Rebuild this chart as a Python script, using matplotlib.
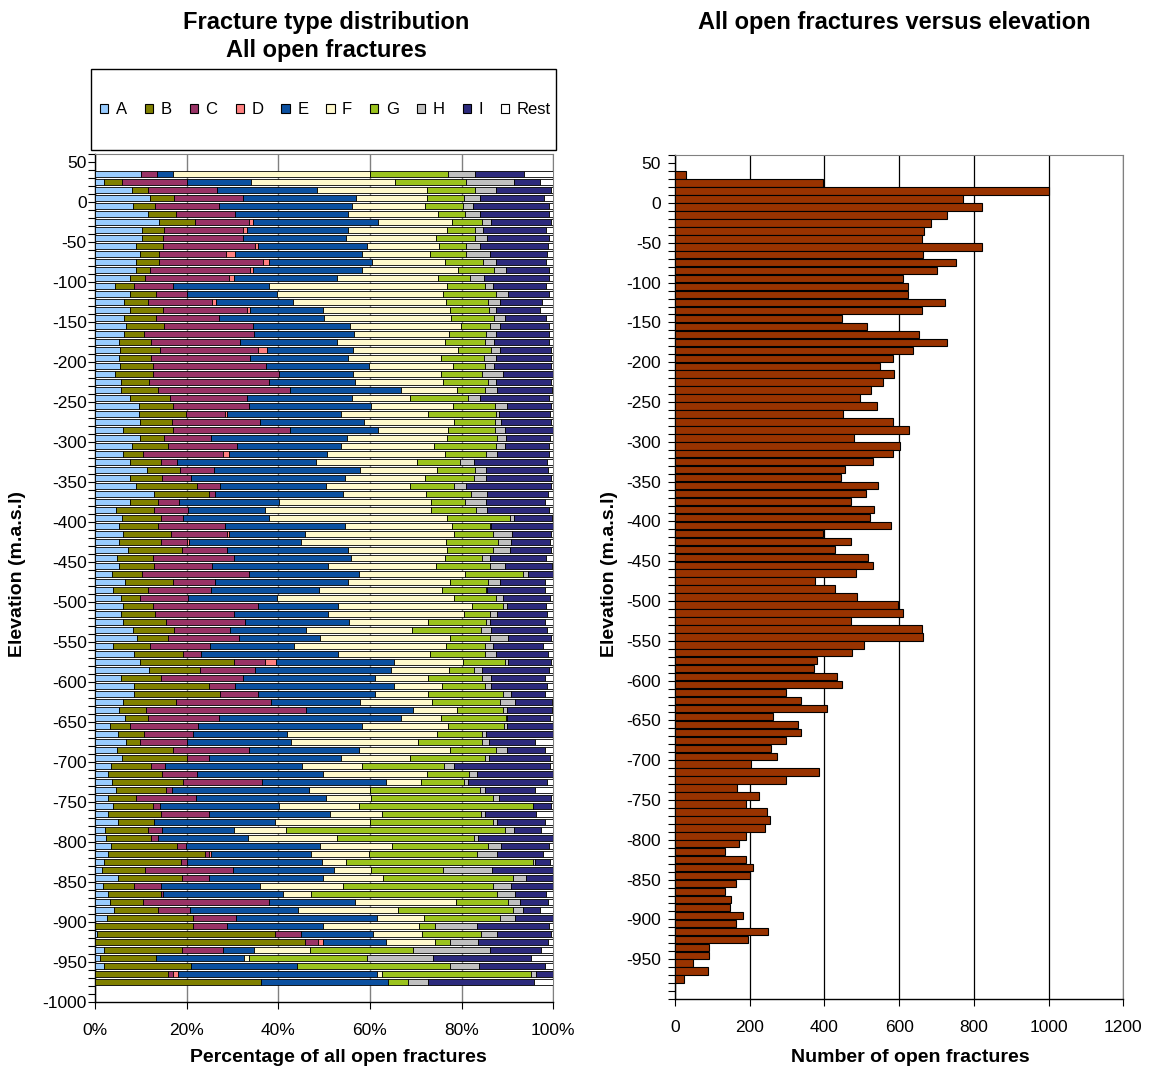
import numpy as np
import matplotlib
matplotlib.use( 'Agg' )
import matplotlib.pyplot as plt
from matplotlib.patches import Patch, Rectangle
from matplotlib.ticker import FixedLocator, MultipleLocator, FuncFormatter

plt.rcParams['font.family'] = [ 'Liberation Sans' , 'DejaVu Sans' ]
plt.rcParams['axes.unicode_minus'] = False

# lower edge of every 10 m elevation bin (m.a.s.l), top bin first
elev = list( range( 30 , -990 , -10 ) )

types  = [ 'A' , 'B' , 'C' , 'D' , 'E' , 'F' , 'G' , 'H' , 'I' , 'Rest' ]
colors = [ '#99CCFF' , '#808000' , '#993366' , '#FF8080' , '#0B50A0' ,
           '#FFF9CC' , '#9BC31E' , '#C0C0C0' , '#2C2A7C' , '#FFFFFF' ]

# share of each fracture type per bin (%)
pct_A = [ 10, 2, 8, 12, 8.4, 11.6, 14, 10.2, 10.2, 9,
          9.8, 9, 9, 7.6, 4.4, 7.6, 6.4, 7.6, 6.4, 6.8,
          6.4, 5.2, 5.5, 5.2, 5.5, 4.4, 5.6, 5.6, 7.7, 9.5,
          9.5, 9.9, 6.2, 9.9, 8.1, 6.2, 7.7, 11.4, 7.7, 8.9,
          12.8, 7.7, 4.6, 6, 5.3, 6.2, 5.3, 7.1, 4.8, 5.3,
          3.7, 6.5, 4, 5.6, 6.2, 5.6, 6.2, 8.3, 9.2, 4,
          8.6, 9.9, 11.7, 5.6, 8.6, 8.6, 6.2, 5.3, 6.5, 3.2,
          5.1, 6.8, 4.8, 5.9, 3.4, 2.9, 3.7, 4.6, 2.9, 4,
          2.9, 5.1, 2.2, 2.4, 3.4, 2.9, 2, 1.5, 5.1, 1.7,
          2.9, 3.2, 4.2, 2.6, 0, 0.4, 0, 2, 1, 2,
          0, 0 ]
pct_B = [ 0, 4, 3.6, 5.3, 4.7, 6, 7.8, 4.9, 4.7, 5.9,
          4.2, 5, 3.1, 3.3, 4.1, 5.7, 5.2, 7.3, 6.9, 8.3,
          4.3, 7, 8.7, 7, 7.2, 8.2, 6.1, 8.2, 8.6, 7.6,
          10.3, 6.9, 10.9, 5.1, 7.8, 4.3, 6.6, 7.1, 7, 13.3,
          12.1, 6.1, 8.2, 8.3, 8.5, 10.3, 9, 11.8, 7.8, 7.5,
          6.5, 10.6, 7.6, 4.3, 6.4, 7.6, 9.4, 9, 6.7, 8,
          10.6, 20.5, 11.2, 8.8, 16.3, 18.7, 11.5, 5.8, 5.1, 4.5,
          5.7, 3.1, 12.3, 14.2, 8.9, 11.8, 15.5, 11, 6, 8.6,
          11.4, 7.7, 9.4, 9.9, 14.5, 21.1, 16.7, 9.5, 13.8, 6.9,
          11.5, 7.3, 9.6, 18.8, 21.4, 38.8, 45.8, 16.9, 12.4, 19,
          16, 36.2 ]
pct_C = [ 3.5, 14, 15.1, 15.1, 14, 12.9, 11.9, 17.3, 17.5, 20,
          14.6, 22.7, 21.7, 18.4, 8.6, 6.7, 13.9, 18.3, 13.8, 19.4,
          24, 19.4, 21.4, 21.6, 24.6, 27.5, 26.2, 28.9, 16.8, 16.4,
          8.6, 19.1, 25.4, 10.3, 15.1, 17.5, 3.5, 7.4, 6.3, 5.1,
          1.3, 4.5, 7.6, 5, 14.6, 12.3, 5.7, 9.9, 17.8, 12.8,
          23.4, 9.1, 13.7, 10.5, 22.9, 17.2, 17.1, 12.2, 15.5, 13,
          3.9, 6.6, 12, 17.8, 5.6, 8.2, 20.6, 35, 15.5, 14.8,
          10.5, 10.2, 16.6, 4.8, 2.9, 7.5, 17.2, 1.1, 13.1, 1.5,
          10.6, 0, 3.1, 1.4, 1.9, 0.9, 1.4, 19.2, 6, 5.7,
          0.5, 27.4, 6.9, 9.4, 7.5, 5.7, 2.9, 9.1, 0, 0,
          1.1, 0 ]
pct_D = [ 0, 0, 0, 0, 0, 0, 0.7, 0.8, 0, 0.7,
          1.9, 1.3, 0.7, 1.1, 0, 0, 0.8, 0.6, 0, 0,
          0, 0, 1.9, 0, 0, 0, 0, 0, 0, 0,
          0.5, 0, 0, 0, 0, 1.2, 0, 0, 0, 0,
          0, 0, 0, 0, 0, 0.5, 0.5, 0, 0, 0,
          0, 0, 0, 0, 0, 0, 0, 0, 0, 0,
          0, 2.4, 0, 0, 0, 0, 0, 0, 0, 0,
          0, 0, 0, 0, 0, 0, 0, 0, 0, 0,
          0, 0, 0, 0, 0, 0.5, 0, 0, 0, 0,
          0, 0, 0, 0, 0, 0, 1, 0, 0, 0,
          1.1, 0 ]
pct_E = [ 3.5, 14, 21.8, 24.5, 29, 24.8, 27.3, 21.9, 22.4, 23.7,
          27.7, 22.5, 23.7, 22.5, 20.9, 19.8, 16.8, 15.9, 22.9, 21.1,
          21.9, 21.3, 18.9, 21.5, 22.5, 16.1, 18.9, 24.3, 22.9, 26.8,
          24.8, 22.9, 19.3, 29.7, 22.7, 21.4, 30.4, 32, 33.6, 23.1,
          28, 21.8, 16.6, 18.6, 26.2, 16.5, 24.4, 26.4, 25.4, 25.3,
          24.1, 29, 23.6, 19.4, 17.5, 20.5, 22.8, 16.6, 17.8, 18.4,
          30, 25.8, 29.7, 28.8, 34.7, 25.5, 19.6, 23.3, 39.6, 35.7,
          20.5, 22.6, 24, 28.8, 30, 27.5, 27, 30, 28.4, 26,
          26.4, 26.4, 15.7, 19.6, 29.3, 21.7, 29.4, 22, 24.9, 21.6,
          26.1, 18.9, 23.6, 30.7, 20.9, 15.8, 13.7, 6.6, 19.2, 23,
          43.3, 27.7 ]
pct_F = [ 43, 31.5, 24, 15.6, 16, 19.5, 16.1, 21.8, 19.5, 15.8,
          14.9, 15.9, 20.9, 22, 38.9, 36.2, 33.5, 27.8, 27.6, 24.2,
          20.6, 23.5, 22.9, 20.3, 18.4, 19.3, 19.2, 12.3, 12.7, 17.9,
          19, 19.6, 15.3, 21.9, 20.3, 25.7, 22, 16.8, 17.4, 18.3,
          18.1, 33.2, 36.3, 39, 23.3, 32.6, 31.7, 21.7, 20.5, 23.6,
          23.1, 22.3, 26.8, 38.6, 29.3, 29.7, 17.2, 23, 28.3, 33.2,
          19.9, 15, 12.7, 11.7, 10.5, 11.7, 15.7, 9.6, 8.8, 18.9,
          32.8, 27.8, 19.8, 15, 13, 22.7, 7.8, 13.4, 9.9, 17.4,
          11.3, 20.9, 11.2, 19.5, 15.7, 12.6, 5.3, 8.1, 13, 18.3,
          6.1, 22, 21.8, 10.3, 20.9, 10.6, 10.8, 12.4, 0.9, 0,
          1.2, 0 ]
pct_G = [ 17, 15.5, 10.4, 8.1, 8.1, 5.9, 6.7, 6, 8.6, 5.8,
          7.8, 8.3, 8, 6.9, 8.2, 11.5, 9.2, 8.5, 9.5, 6.4,
          8.1, 8.7, 7.2, 9.3, 6.9, 9, 9.7, 6, 12.6, 9,
          14.8, 8.8, 10.1, 10.9, 13.5, 9, 9.4, 8.2, 10.6, 9.7,
          9.7, 7.5, 9.9, 13.6, 8.2, 8.4, 11.4, 9.9, 8.2, 11.7,
          12.5, 8.2, 9.6, 9.1, 6.7, 5.6, 12.6, 15.1, 8.7, 8.4,
          12, 9.2, 5.3, 11.8, 9.5, 16.3, 14.8, 10, 14.1, 12.1,
          9.9, 14, 10, 16.3, 18, 9.3, 9.4, 23.8, 26.5, 38.1,
          21.6, 26.7, 47.8, 29.8, 20.9, 23.6, 40.7, 15.7, 28.3, 32.6,
          40.7, 11.4, 25, 16.6, 3.5, 12.9, 3.3, 22.4, 25.9, 33.5,
          32.5, 4.3 ]
pct_H = [ 6, 10.5, 4.7, 3.5, 2.2, 3.4, 2, 1.8, 2.7, 3.2,
          5.3, 2.8, 2.6, 3.1, 1.8, 2.7, 2.6, 1.6, 2.4, 2.2,
          2.3, 2, 1.9, 2.5, 2, 4.5, 1.8, 2.6, 2.8, 2.7,
          0.6, 1.4, 2.2, 1.8, 2, 2.4, 3.2, 2.4, 2.7, 2.6,
          3.6, 4.5, 2.4, 0.9, 0.4, 4.2, 2.7, 3.7, 1.7, 3.2,
          1.1, 2.7, 0.3, 1.5, 0.9, 1.6, 0.9, 2.3, 3.9, 1.8,
          2.5, 0.7, 1.9, 2, 1.3, 1.8, 3.2, 0.9, 0.3, 0.7,
          0.8, 1.4, 2.4, 0.9, 2.2, 1.6, 0.8, 1.1, 1.3, 0,
          1, 0.9, 2, 0.9, 2.9, 4.5, 0.5, 10.6, 3, 4,
          3.9, 2.5, 2.2, 3.3, 9.1, 3.5, 6.1, 16.8, 14.4, 6.2,
          1.1, 4.5 ]
pct_I = [ 10.5, 5.5, 12, 13.9, 16.6, 15, 13.1, 13.8, 13.5, 14.8,
          12.5, 10.8, 9.4, 14.2, 11.6, 8.9, 9.2, 9.5, 8.8, 10.6,
          11.4, 12, 11.2, 12, 12.4, 11, 12, 12.1, 14.9, 9.7,
          11.2, 11, 10.5, 9.7, 9.5, 11.3, 15.9, 13.5, 14.3, 18.6,
          13.3, 12.9, 13.5, 8.3, 13.5, 8.6, 8.6, 9.1, 12.2, 10.3,
          5.6, 9.8, 12.5, 10.3, 8.5, 10.9, 12, 12.2, 9.5, 11,
          11.4, 9.5, 14.5, 11.7, 12.2, 7.4, 8.2, 9.9, 9.4, 10.1,
          14.7, 10.1, 8.3, 13.4, 20.9, 16.7, 17.3, 11, 11.5, 4,
          11.1, 10.5, 6, 16.5, 10.4, 10, 3.3, 13.4, 5.9, 9.2,
          6.7, 6.1, 3.7, 8.3, 15.8, 11.9, 15.2, 11.2, 21.3, 14.5,
          3.7, 23 ]
pct_rest = [ 6.5, 3, 0.4, 2, 1, 0.9, 0.4, 1.5, 0.9, 1.1,
             1.3, 1.7, 0.9, 0.9, 1.5, 0.9, 2.4, 2.9, 1.7, 1,
             1, 0.9, 0.4, 0.6, 0.5, 0, 0.5, 0.3, 1, 0.4,
             0.7, 0.4, 0.1, 0.7, 1, 1, 1.3, 1.2, 0.4, 0.4,
             1.1, 1.8, 0.9, 0.3, 0, 0.4, 0.7, 0.4, 1.6, 0.3,
             0, 1.8, 1.9, 0.7, 1.6, 1.3, 1.8, 1.3, 0.4, 2.2,
             1.1, 0.4, 1, 1.8, 1.3, 1.8, 0.2, 0.2, 0.7, 0,
             0, 4, 1.8, 0.7, 0.7, 0, 1.3, 4, 0.4, 0.4,
             3.7, 1.8, 2.6, 0, 1, 2.2, 0.7, 0, 0, 0,
             1.6, 1.2, 3, 0, 0.9, 0.4, 1.2, 2.6, 4.9, 1.8,
             0, 4.3 ]

# number of open fractures per bin
n_open = [ 30, 395, 1000, 770, 821, 729, 685, 667, 661, 821,
           663, 751, 700, 609, 623, 623, 722, 661, 446, 513,
           652, 729, 638, 583, 550, 587, 557, 524, 495, 542,
           451, 583, 627, 480, 601, 583, 529, 455, 444, 543,
           511, 470, 532, 521, 579, 397, 470, 429, 517, 529,
           484, 374, 429, 488, 597, 609, 470, 661, 663, 506,
           473, 381, 371, 433, 448, 297, 338, 408, 261, 330,
           338, 297, 257, 272, 203, 386, 297, 165, 225, 191,
           246, 254, 240, 191, 170, 133, 191, 210, 200, 162,
           133, 151, 147, 181, 162, 250, 195, 92, 92, 49,
           89, 23 ]


def style_elevation_axis( ax , lowest_label ):

    ax.set_ylim( -1000 , 60 )
    ax.yaxis.set_major_locator( FixedLocator( list( range( 50 , lowest_label - 1 , -50 ) ) ) )
    ax.yaxis.set_minor_locator( MultipleLocator( 10 ) )
    ax.tick_params( axis='y' , which='both' , direction='out' , length=5 , width=0.8 , labelsize=12.5 )
    ax.tick_params( axis='x' , which='major' , direction='out' , length=5 , width=0.8 , labelsize=12.5 , pad=10 )
    ax.set_axisbelow( True )

    for side in [ 'top' , 'right' ]:
        ax.spines[side].set_color( '#808080' )
    for side in [ 'left' , 'bottom' ]:
        ax.spines[side].set_color( 'black' )
        ax.spines[side].set_linewidth( 1.0 )


def plot_type_distribution( ax ):

    data = np.array( [ pct_A , pct_B , pct_C , pct_D , pct_E ,
                       pct_F , pct_G , pct_H , pct_I , pct_rest ] , dtype=float )
    data = 100. * data / data.sum( axis=0 )

    yc   = np.array( elev ) + 5
    left = np.zeros( len( elev ) )

    for ci , row in zip( colors , data ):
        ax.barh( yc , row , height=8.3 , left=left , color=ci ,
                 edgecolor='black' , linewidth=0.6 , zorder=3 )
        left += row

    ax.set_xlim( 0 , 100 )
    ax.set_xticks( np.arange( 0 , 101 , 20 ) )
    ax.xaxis.set_major_formatter( FuncFormatter( lambda v , p : '%d%%' % v ) )
    ax.grid( axis='x' , color='#808080' , linewidth=1.0 )

    style_elevation_axis( ax , -1000 )
    ax.tick_params( axis='y' , which='both' , pad=1 )


def plot_counts( ax ):

    yc = np.array( elev ) + 5

    ax.barh( yc , n_open , height=9.3 , color='#993300' ,
             edgecolor='black' , linewidth=0.8 , zorder=3 )

    ax.set_xlim( 0 , 1200 )
    ax.set_xticks( np.arange( 0 , 1201 , 200 ) )
    ax.grid( axis='x' , color='black' , linewidth=0.9 )

    style_elevation_axis( ax , -950 )
    ax.tick_params( axis='y' , which='both' , pad=5 )


if __name__ == "__main__":

    W , H = 1152 , 1070
    fig = plt.figure( figsize=( W/100 , H/100 ) , dpi=100 )

    ax_l = fig.add_axes( [ 95/W , 1 - 1002/H , 458.3/W , 848/H ] )
    ax_r = fig.add_axes( [ 675/W , 1 - 999/H , 448.3/W , 843.7/H ] )

    plot_type_distribution( ax_l )
    plot_counts( ax_r )

    # legend box (tall frame, entries on one centred row)
    fig.add_artist( Rectangle( ( 91/W , 1 - 150/H ) , 465/W , 81/H , transform=fig.transFigure ,
                               facecolor='white' , edgecolor='black' , linewidth=1.0 ) )

    handles = [ Patch( facecolor=ci , edgecolor='black' , linewidth=0.8 , label=ti )
                for ti , ci in zip( types , colors ) ]
    fig.legend( handles=handles , loc='center' , ncol=10 , mode='expand' ,
                bbox_to_anchor=( 95/W , 1 - 125/H , 461/W , 30/H ) ,
                bbox_transform=fig.transFigure , fontsize=12 ,
                handlelength=0.5 , handleheight=0.5 , handletextpad=0.45 ,
                borderaxespad=0 , borderpad=0.3 , frameon=False )

    bold = dict( fontweight='bold' , ha='center' , va='center' )
    fig.text( 326/W , 1 - 22/H , 'Fracture type distribution' , fontsize=17 , **bold )
    fig.text( 326/W , 1 - 51/H , 'All open fractures' , fontsize=17 , **bold )
    fig.text( 894/W , 1 - 22/H , 'All open fractures versus elevation' , fontsize=17 , **bold )

    fig.text( 338/W , 1 - 1057/H , 'Percentage of all open fractures' , fontsize=14 , **bold )
    fig.text( 910/W , 1 - 1057/H , 'Number of open fractures' , fontsize=14 , **bold )
    fig.text( 18/W , 1 - 574/H , 'Elevation (m.a.s.l)' , fontsize=14 , rotation=90 , **bold )
    fig.text( 610/W , 1 - 574/H , 'Elevation (m.a.s.l)' , fontsize=14 , rotation=90 , **bold )

    fig.savefig( 'out.png' , dpi=100 )
